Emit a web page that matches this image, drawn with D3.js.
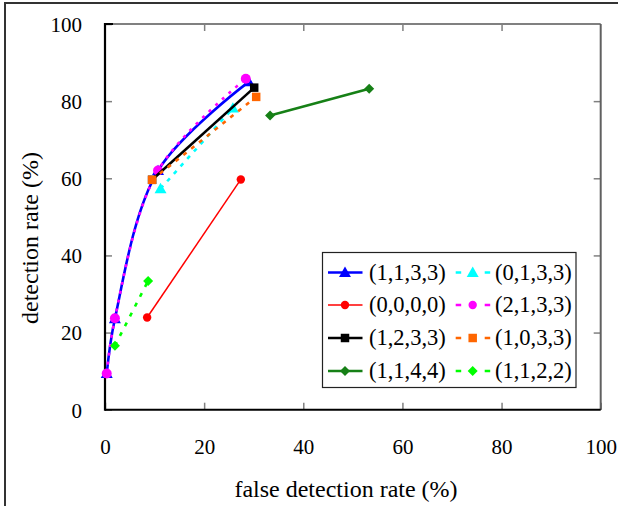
<!DOCTYPE html>
<html>
<head>
<meta charset="utf-8">
<script src="https://cdn.jsdelivr.net/npm/d3@7"></script>
<style>
  html, body { margin: 0; padding: 0; background: #fff; }
  svg { display: block; }
  text { font-family: "Liberation Serif", "Times New Roman", Times, serif; fill: #000; }
</style>
</head>
<body>
<svg id="chart" width="618" height="506"></svg>
<script>
// ---- data ----
const seriesNames = ["(1,1,3,3)", "(0,1,3,3)", "(0,0,0,0)", "(2,1,3,3)", "(1,2,3,3)", "(1,0,3,3)", "(1,1,4,4)", "(1,1,2,2)"];
const x1133 = [0.35, 2.0, 10.7, 29.0];
const y1133 = [9.4, 23.6, 62.0, 85.0];
const x0133 = [11.2, 25.8];
const y0133 = [57.3, 78.2];
const x0000 = [8.5, 27.4];
const y0000 = [23.9, 59.7];
const x2133 = [0.35, 2.0, 10.7, 28.4];
const y2133 = [9.4, 23.7, 62.0, 85.8];
const x1233 = [9.5, 30.1];
const y1233 = [59.6, 83.5];
const x1033 = [9.5, 30.5];
const y1033 = [59.6, 81.1];
const x1144 = [33.3, 53.3];
const y1144 = [76.3, 83.2];
const x1122 = [2.0, 8.7];
const y1122 = [16.6, 33.4];
const xTicks = [0, 20, 40, 60, 80, 100];
const yTicks = [0, 20, 40, 60, 80, 100];
const xTitle = "false detection rate (%)";
const yTitle = "detection rate (%)";

// ---- styles ----
const styles = [
  {color: "#0000ff", width: 2.6, dash: null, sym: "triangle", smooth: true},
  {color: "#00ffff", width: 2.6, dash: "4,6", sym: "triangle", smooth: false},
  {color: "#ff0000", width: 1.5, dash: null, sym: "circle", smooth: false, r: 4.2},
  {color: "#ff00ff", width: 2.6, dash: "3,6", sym: "circle", smooth: true, r: 5},
  {color: "#000000", width: 2.6, dash: null, sym: "square", smooth: false},
  {color: "#ff6600", width: 2.6, dash: "4,6", sym: "square", smooth: false},
  {color: "#168016", width: 2.6, dash: null, sym: "diamond", smooth: false},
  {color: "#00ff00", width: 2.6, dash: "4,7", sym: "diamond", smooth: false}
];
const xs = [x1133, x0133, x0000, x2133, x1233, x1033, x1144, x1122];
const ys = [y1133, y0133, y0000, y2133, y1233, y1033, y1144, y1122];
const series = seriesNames.map((n, i) => ({
  name: n, style: styles[i],
  pts: xs[i].map((v, j) => ({x: v, y: ys[i][j]}))
}));

const svg = d3.select("#chart");
const L = 105, R = 600.7, T = 24, B = 409.7;
const x = d3.scaleLinear().domain([0, 100]).range([L, R]);
const y = d3.scaleLinear().domain([0, 100]).range([B, T]);

// outer border (partially cropped in reference)
svg.append("rect").attr("x", 5).attr("y", 3).attr("width", 700).attr("height", 600)
  .attr("fill", "none").attr("stroke", "#333").attr("stroke-width", 2);

const tickColor = "#808080";
const fontFam = "'Liberation Serif', 'Times New Roman', Times, serif";
// bottom axis
const gx = svg.append("g").attr("transform", `translate(0,${B})`)
  .call(d3.axisBottom(x).tickValues(xTicks).tickSize(-7).tickFormat(d3.format("d")));
gx.attr("font-family", fontFam);
gx.select(".domain").remove();
gx.selectAll("line").attr("stroke", tickColor).attr("stroke-width", 1.5);
gx.selectAll("text").attr("y", 37).attr("dy", "0.35em").style("font-size", "21px");
// left axis
const gy = svg.append("g").attr("transform", `translate(${L},0)`)
  .call(d3.axisLeft(y).tickValues(yTicks).tickSize(-7).tickFormat(d3.format("d")));
gy.attr("font-family", fontFam);
gy.select(".domain").remove();
gy.selectAll("line").attr("stroke", tickColor).attr("stroke-width", 1.5);
gy.selectAll("text").attr("x", -23).attr("dy", "0.35em").style("font-size", "21px");
// top and right mirror ticks
const gt = svg.append("g").attr("transform", `translate(0,${T})`)
  .call(d3.axisTop(x).tickValues(xTicks.slice(1, -1)).tickSize(-7).tickFormat(""));
gt.select(".domain").remove();
gt.selectAll("line").attr("stroke", tickColor).attr("stroke-width", 1.5);
const gr = svg.append("g").attr("transform", `translate(${R},0)`)
  .call(d3.axisRight(y).tickValues(yTicks.slice(1, -1)).tickSize(-7).tickFormat(""));
gr.select(".domain").remove();
gr.selectAll("line").attr("stroke", tickColor).attr("stroke-width", 1.5);

// frame
svg.append("line").attr("x1", L).attr("x2", R).attr("y1", T).attr("y2", T)
  .attr("stroke", "#808080").attr("stroke-width", 2);
svg.append("line").attr("x1", R).attr("x2", R).attr("y1", T).attr("y2", B)
  .attr("stroke", "#606060").attr("stroke-width", 2);
svg.append("line").attr("x1", L).attr("x2", R).attr("y1", B).attr("y2", B)
  .attr("stroke", "#000").attr("stroke-width", 2);
svg.append("line").attr("x1", L).attr("x2", L).attr("y1", T - 1).attr("y2", B + 1)
  .attr("stroke", "#000").attr("stroke-width", 2.2);
svg.append("line").attr("x1", L).attr("x2", L + 8).attr("y1", T).attr("y2", T)
  .attr("stroke", "#000").attr("stroke-width", 2);

// titles
svg.append("text").attr("x", 346).attr("y", 489).attr("dy", "0.35em")
  .attr("text-anchor", "middle").style("font-size", "24px").text(xTitle);
svg.append("text").attr("transform", "translate(30,238) rotate(-90)").attr("dy", "0.35em")
  .attr("text-anchor", "middle").style("font-size", "24px").text(yTitle);

function symbolPath(sym, r) {
  if (sym === "triangle") return d3.symbol().type(d3.symbolTriangle).size(62)();
  if (sym === "circle") return d3.symbol().type(d3.symbolCircle).size(Math.PI * (r || 4.6) * (r || 4.6))();
  if (sym === "square") return d3.symbol().type(d3.symbolSquare).size(72)();
  return d3.symbol().type(d3.symbolSquare).size(50)();
}
function symTransform(sym, px, py) {
  if (sym === "diamond") return `translate(${px},${py}) rotate(45)`;
  if (sym === "triangle") return `translate(${px},${py + 1})`;
  return `translate(${px},${py})`;
}

const plot = svg.append("g");
series.forEach(s => {
  const st = s.style;
  const line = d3.line().x(d => x(d.x)).y(d => y(d.y))
    .curve(st.smooth ? d3.curveCatmullRom.alpha(0.5) : d3.curveLinear);
  plot.append("path").datum(s.pts).attr("d", line).attr("fill", "none")
    .attr("stroke", st.color).attr("stroke-width", st.width)
    .attr("stroke-dasharray", st.dash);
  plot.selectAll(null).data(s.pts).enter().append("path")
    .attr("d", symbolPath(st.sym, st.r))
    .attr("transform", d => symTransform(st.sym, x(d.x), y(d.y)))
    .attr("fill", st.color);
});

// legend
const lg = svg.append("g");
lg.append("rect").attr("x", 322.5).attr("y", 252.5).attr("width", 253.5).attr("height", 135)
  .attr("fill", "#fff").attr("stroke", "#222").attr("stroke-width", 1.2);
const rowY = [272.5, 305, 338, 371];
series.forEach((s, i) => {
  const row = Math.floor(i / 2), col = i % 2;
  const st = s.style;
  const x0 = col === 0 ? 328 : 455.7, x1 = x0 + 34.5, mx = x0 + 17;
  const yy = rowY[row];
  lg.append("line").attr("x1", x0).attr("x2", x1).attr("y1", yy).attr("y2", yy)
    .attr("stroke", st.color).attr("stroke-width", st.width)
    .attr("stroke-dasharray", st.dash ? "5.5,23.5,5.5" : null);
  lg.append("path").attr("d", symbolPath(st.sym, st.r ? Math.min(st.r, 4.2) : null))
    .attr("transform", symTransform(st.sym, mx, yy)).attr("fill", st.color);
  lg.append("text").attr("x", col === 0 ? 369 : 495).attr("y", yy).attr("dy", "0.33em")
    .style("font-size", "22.5px").text(s.name);
});
</script>
</body>
</html>
